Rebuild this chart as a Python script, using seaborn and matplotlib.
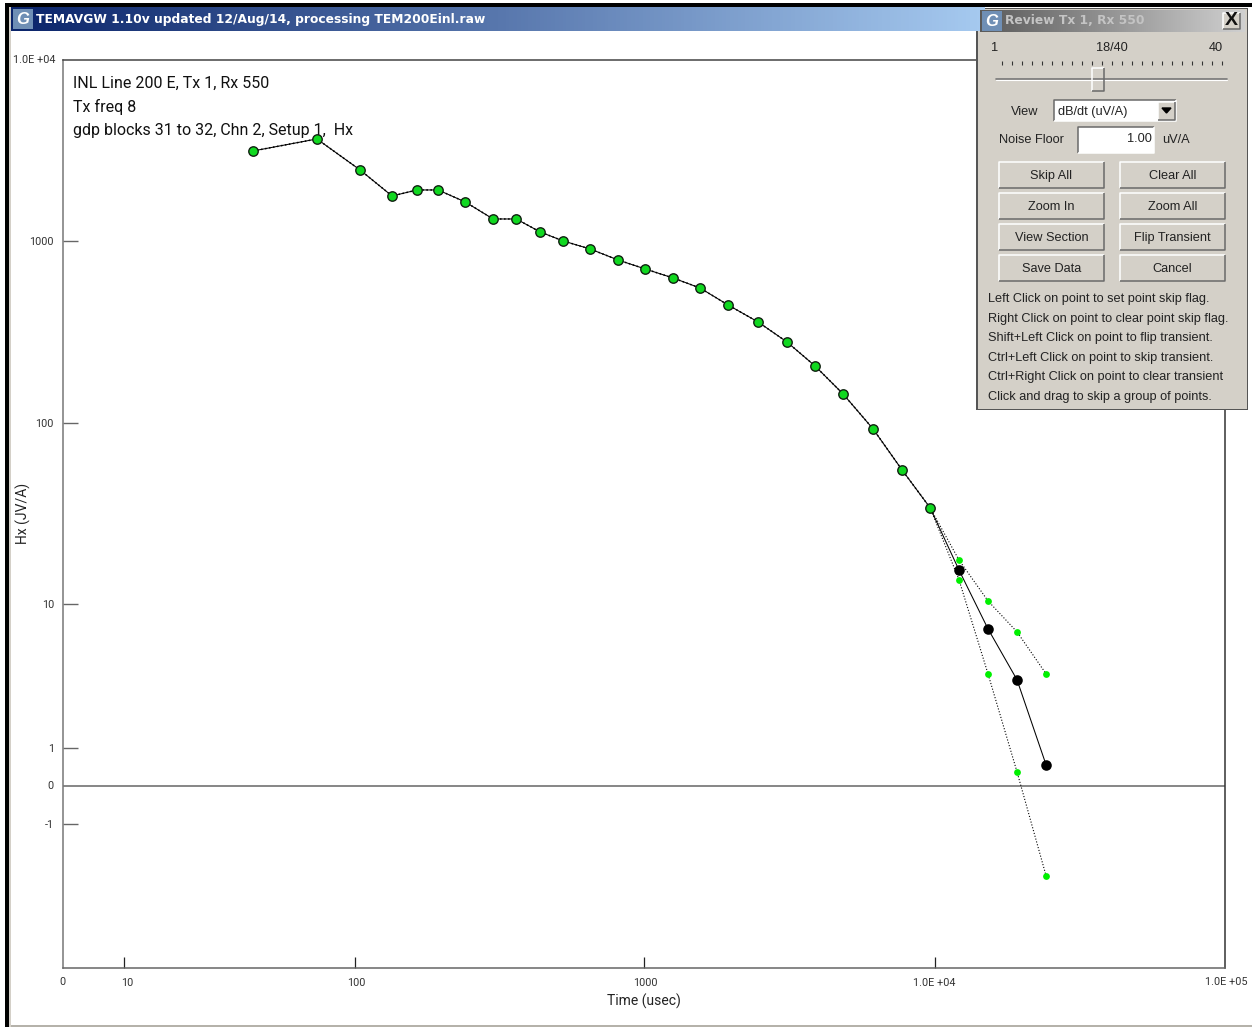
import numpy as np
import pandas as pd
import matplotlib
matplotlib.use('Agg')
import matplotlib.pyplot as plt
from matplotlib.colors import LinearSegmentedColormap
from matplotlib.patches import Rectangle
from matplotlib.transforms import ScaledTranslation
import seaborn as sns

sns.set_style('white')
NARROW = ['Roboto', 'Liberation Sans', 'DejaVu Sans']
plt.rcParams['font.family'] = ['Liberation Sans', 'DejaVu Sans']

# averaged transient
time_us = [42.9, 73.5, 104.4, 135, 165, 195, 242, 302, 363, 439, 526, 652, 813, 1007,
           1259, 1559, 1945, 2469, 3107, 3879, 4842, 6142, 7727, 9660,
           12140, 15280, 19230, 24210]
hx = [3153, 3672, 2477, 1781, 1922, 1922, 1651, 1330, 1330, 1128, 1007, 909, 791, 706,
      629, 554, 447, 360, 279, 206, 144.5, 92.7, 55.1, 34,
      15.4, 7.19, 3.58, 0.54]
skipped = [False] * 24 + [True] * 4

# error bounds on the skipped tail, first value is the last good point
tail_time = [9660, 12140, 15280, 19230, 24210]
tail_upper = [34, 17.5, 10.35, 6.91, 3.90]
tail_lower = [34, 13.6, 3.90, 0.357, -2.81]

x_ticks = [0, 10, 100, 1000, 10000, 100000]
x_labels = ['0', '10', '100', '1000', '1.0E +04', '1.0E +05']
y_ticks = [-1, 0, 1, 10, 100, 1000, 10000]
y_labels = ['-1', '0', '1', '10', '100', '1000', '1.0E +04']

info_lines = ['INL Line 200 E, Tx 1, Rx 550', 'Tx freq 8', 'gdp blocks 31 to 32, Chn 2, Setup 1,  Hx']
help_lines = ['Left Click on point to set point skip flag.',
              'Right Click on point to clear point skip flag.',
              'Shift+Left Click on point to flip transient.',
              'Ctrl+Left Click on point to skip transient.',
              'Ctrl+Right Click on point to clear transient',
              'Click and drag to skip a group of points.']
button_rows = [('Skip All', 'Clear All'), ('Zoom In', 'Zoom All'),
               ('View Section', 'Flip Transient'), ('Save Data', 'Cancel')]

W, H = 1252, 1027
fig = plt.figure(figsize=(W / 100, H / 100), dpi=100, facecolor='white')

#region plot
ax = fig.add_axes([63 / W, 1 - 968 / H, (1225 - 63) / W, (968 - 60) / H])
ax.set_xscale('function', functions=(lambda v: np.arcsinh(v / 20) / np.log(10),
                                     lambda v: 20 * np.sinh(v * np.log(10))))
ax.set_yscale('function', functions=(lambda v: np.arcsinh(v / 2) / np.log(10),
                                     lambda v: 2 * np.sinh(v * np.log(10))))

df = pd.DataFrame({'time': time_us, 'hx': hx, 'skipped': skipped})
tail = pd.DataFrame({'time': tail_time, 'upper': tail_upper, 'lower': tail_lower})

sns.lineplot(data=df, x='time', y='hx', sort=False, errorbar=None, estimator=None,
             color='black', lw=0.75, ax=ax, zorder=3)
sns.lineplot(data=df[~df['skipped']], x='time', y='hx', sort=False, errorbar=None, estimator=None,
             color='black', lw=1.1, ls=':', ax=ax, zorder=3)
for col in ['upper', 'lower']:
    sns.lineplot(data=tail, x='time', y=col, sort=False, errorbar=None, estimator=None,
                 color='black', lw=0.8, ls=':', ax=ax, zorder=3)
    sns.scatterplot(data=tail.iloc[1:], x='time', y=col, color='#00f000', s=24, lw=0,
                    ax=ax, zorder=4)
sns.scatterplot(data=df[~df['skipped']], x='time', y='hx', color='#10d820', edgecolor='#102010',
                s=46, lw=1.0, ax=ax, zorder=5)
sns.scatterplot(data=df[df['skipped']], x='time', y='hx', color='black', s=58, lw=0,
                ax=ax, zorder=5)

ax.axhline(0, color='#666666', lw=1.1, zorder=2)
ax.set_xlim(0, 100000)
ax.set_ylim(-10, 10000)
ax.set_xticks(x_ticks[1:-1])
ax.set_xticks([], minor=True)
ax.set_yticks([t for t in y_ticks if t not in (0, 10000)])
ax.set_yticks([], minor=True)
ax.set_xticklabels(x_labels[1:-1])
ax.set_yticklabels([l for l in y_labels if l not in ('0', '1.0E +04')])
ax.tick_params(axis='x', bottom=True, direction='in', length=7.9, width=0.9, color='#222222', pad=7.5,
               labelsize=7.8, labelcolor='#333333')
ax.tick_params(axis='y', left=True, direction='in', length=10.8, width=1.0, color='#666666', pad=6.5,
               labelsize=7.8, labelcolor='#333333')
for lab in ax.get_xticklabels() + ax.get_yticklabels():
    lab.set_family(NARROW)
# the old program centres its labels a little right of the tick
for lab, dx in zip(ax.get_xticklabels(), [4, 2, 1, 0]):
    lab.set_transform(lab.get_transform() + ScaledTranslation(dx / 100, 0, fig.dpi_scale_trans))
for side, col in [('left', '#777777'), ('bottom', '#666666'), ('top', '#444444'), ('right', '#333333')]:
    ax.spines[side].set_color(col)
    ax.spines[side].set_linewidth(1.1)
ax.set_xlabel('')
ax.set_ylabel('')
ax.patch.set_alpha(0)
#endregion plot

#region window chrome, in pixel coordinates
ui = fig.add_axes([0, 0, 1, 1], zorder=5)
ui.patch.set_alpha(0)
ui.axis('off')
PANEL = '#d4d0c8'


def box(x0, y0, x1, y1, color, **kw):
    ui.add_patch(Rectangle((x0, y0), x1 - x0, y1 - y0, fc=color, ec='none', **kw))


def bevel(x0, y0, x1, y1, color=PANEL, sunken=False):
    hi, lo = ('#6a6a6a', '#ffffff') if sunken else ('#ffffff', '#6a6a6a')
    box(x0, y0, x1, y1, color)
    ui.plot([x0, x0, x1], [y1, y0, y0], color=hi, lw=1.1, solid_capstyle='butt')
    ui.plot([x0, x1, x1], [y1, y1, y0], color=lo, lw=1.1, solid_capstyle='butt')


def gradient(x0, y0, x1, y1, left, right):
    cmap = LinearSegmentedColormap.from_list('g', [left, right])
    ui.imshow(np.linspace(0, 1, 256).reshape(1, -1), cmap=cmap, extent=[x0, x1, y1, y0],
              aspect='auto', zorder=1)


def icon(x0, y0, size):
    box(x0, y0, x0 + size, y0 + size, '#6f8fb5', zorder=2)
    ui.text(x0 + size / 2, y0 + size / 2 + 0.5, 'G', color='white', fontsize=12, fontweight='bold',
            fontstyle='italic', ha='center', va='center', zorder=3)


def label(x, y, s, size=9.2, ha='left', color='#222222', **kw):
    ui.text(x, y + 1, s, fontsize=size, ha=ha, va='center', color=color, zorder=6, **kw)


# outer frame
box(5, 3, 8.5, H, 'black')
box(8.5, 7, 11, H, PANEL)
box(5, 3, 1252, 7, 'black')
box(11, 1024.5, 1252, H, '#b5b2aa')
gradient(11, 7, 985, 31, '#0a246a', '#a6caf0')
icon(13, 9, 20)
ui.text(36, 19.5, 'TEMAVGW 1.10v updated 12/Aug/14, processing TEM200Einl.raw', color='white',
        fontsize=8.8, fontweight='bold', family='DejaVu Sans', va='center', zorder=6)

# axis and annotation text
for s, y in zip(info_lines, [82, 106, 130]):
    label(73, y, s, size=11.5, family=NARROW, color='#111111')
label(55, 59, y_labels[-1], size=7.8, ha='right', family=NARROW, color='#333333')
label(54, 785, y_labels[1], size=7.8, ha='right', family=NARROW, color='#333333')
label(62, 981, x_labels[0], size=7.8, ha='center', family=NARROW, color='#333333')
label(1226, 981, x_labels[-1], size=7.8, ha='center', family=NARROW, color='#333333')
ui.text(23, 513, 'Hx (JV/A)', rotation=90, fontsize=10, family=NARROW, ha='center', va='center',
        color='#222222', zorder=6)
label(644, 1000, 'Time (usec)', size=10, ha='center', family=NARROW)

# review dialog
box(976, 8, 1248, 410, '#555555', zorder=0)
box(977.5, 9, 1246.5, 408.5, PANEL, zorder=0)
gradient(980, 10, 1245, 32, '#5a5a5a', '#d0d0d0')
icon(982, 11, 20)
ui.text(1005, 20.5, 'Review Tx 1, Rx 550', color='#c4c4c4', fontsize=8.8, fontweight='bold',
        family='DejaVu Sans', va='center', zorder=6)
bevel(1222.5, 12.5, 1240, 28.5)
ui.text(1231, 20.5, 'X', fontsize=14, fontweight='bold', ha='center', va='center', color='#111111', zorder=6)

label(995, 47, '1', ha='center')
label(1112, 47, '18/40', ha='center')
label(1223, 47, '40', ha='right')
ui.plot(np.arange(1002, 1224, 10), [63] * 23, ls='none', marker='|', ms=2.2, mew=0.8, color='#333333')
ui.plot([996, 1227], [78.5, 78.5], color='#777777', lw=1.2)
ui.plot([996, 1227], [80, 80], color='#ffffff', lw=0.8)
bevel(1092, 68, 1104, 91)

label(1025, 111, 'View', ha='center')
bevel(1054, 100, 1176, 121, color='white', sunken=True)
label(1058, 111, 'dB/dt (uV/A)')
bevel(1158, 102, 1175, 120)
ui.fill([1162, 1171, 1166.5], [108, 108, 113], color='black', zorder=6)

label(999, 139, 'Noise Floor')
bevel(1078, 127, 1154, 153, color='white', sunken=True)
label(1152, 138, '1.00', ha='right')
label(1162, 139, 'uV/A')

for (left, right), y0 in zip(button_rows, [162, 193, 224, 255]):
    bevel(999, y0, 1104, y0 + 26)
    bevel(1120, y0, 1225, y0 + 26)
    label(1051.5, y0 + 13, left, ha='center')
    label(1172.5, y0 + 13, right, ha='center')

for s, y in zip(help_lines, [298, 318, 337, 357, 376, 396]):
    label(988, y, s)

ui.set_xlim(0, W)
ui.set_ylim(H, 0)
#endregion window chrome

fig.savefig('out.png', dpi=100)
plt.close('all')
